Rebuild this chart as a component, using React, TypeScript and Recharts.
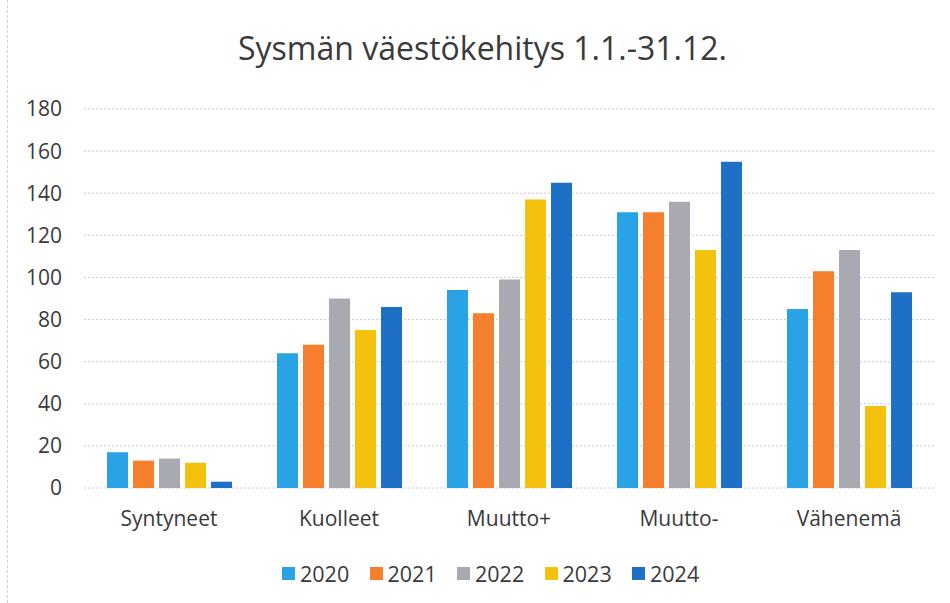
import { BarChart, Bar, XAxis, YAxis, CartesianGrid, Legend } from 'recharts'

const CATEGORIES = ['Syntyneet', 'Kuolleet', 'Muutto+', 'Muutto-', 'Vähenemä']
const YEARS = ['2020', '2021', '2022', '2023', '2024']

const V2020 = [17, 64, 94, 131, 85]
const V2021 = [13, 68, 83, 131, 103]
const V2022 = [14, 90, 99, 136, 113]
const V2023 = [12, 75, 137, 113, 39]
const V2024 = [3, 86, 145, 155, 93]

const Y_TICKS = [0, 20, 40, 60, 80, 100, 120, 140, 160, 180]

const YEAR_COLOURS: Record<string, string> = {
  '2020': '#29a3e6',
  '2021': '#f57f2d',
  '2022': '#a9a9b1',
  '2023': '#f4c20e',
  '2024': '#1d70c6',
}

const FONT = '"Open Sans", sans-serif'
const TEXT = '#3a3a3a'

const SERIES = [V2020, V2021, V2022, V2023, V2024]
const data = CATEGORIES.map((name, i) => {
  const row: Record<string, string | number> = { name }
  YEARS.forEach((y, j) => { row[y] = SERIES[j][i] })
  return row
})

function YearLegend() {
  return (
    <div style={{ display: 'flex', paddingLeft: 282, fontFamily: FONT }}>
      {YEARS.map((y) => (
        <div key={y} style={{ display: 'flex', alignItems: 'center', width: 87.5 }}>
          <span style={{ width: 13, height: 13, background: YEAR_COLOURS[y], marginRight: 5 }} />
          <span style={{ fontSize: 21.5, color: TEXT }}>{y}</span>
        </div>
      ))}
    </div>
  )
}

export default function App() {
  return (
    <div style={{ position: 'absolute', left: 0, top: 0, width: 950, height: 603, background: '#fff', overflow: 'hidden' }}>
      <div style={{ position: 'absolute', left: 7, top: 0, height: 603, borderLeft: '1px dashed #cfcfd8' }} />
      <div
        style={{
          position: 'absolute', left: 0, top: 26, width: 950, paddingLeft: 15, boxSizing: 'border-box',
          textAlign: 'center', fontFamily: FONT, fontSize: 32, color: TEXT, whiteSpace: 'nowrap',
        }}
      >
        Sysmän väestökehitys 1.1.-31.12.
      </div>
      <BarChart
        width={950}
        height={603}
        data={data}
        margin={{ top: 109, right: 16, bottom: 85, left: 0 }}
        barSize={21}
        barGap={5}
      >
        <CartesianGrid vertical={false} stroke="#c9c9d2" strokeDasharray="2 2" />
        <XAxis
          dataKey="name"
          height={30}
          axisLine={false}
          tickLine={false}
          tickSize={0}
          tickMargin={23}
          tick={{ fontSize: 21, fill: TEXT, fontFamily: FONT }}
        />
        <YAxis
          width={84}
          domain={[0, 180]}
          ticks={Y_TICKS}
          axisLine={false}
          tickLine={false}
          tickSize={0}
          tickMargin={22}
          tick={{ fontSize: 21, fill: TEXT, fontFamily: FONT }}
        />
        <Legend
          verticalAlign="middle"
          align="center"
          layout="horizontal"
          content={<YearLegend />}
          wrapperStyle={{ top: 559, left: 0, width: 950, bottom: 'auto' }}
        />
        {YEARS.map((y) => (
          <Bar key={y} dataKey={y} fill={YEAR_COLOURS[y]} isAnimationActive={false} />
        ))}
      </BarChart>
    </div>
  )
}
